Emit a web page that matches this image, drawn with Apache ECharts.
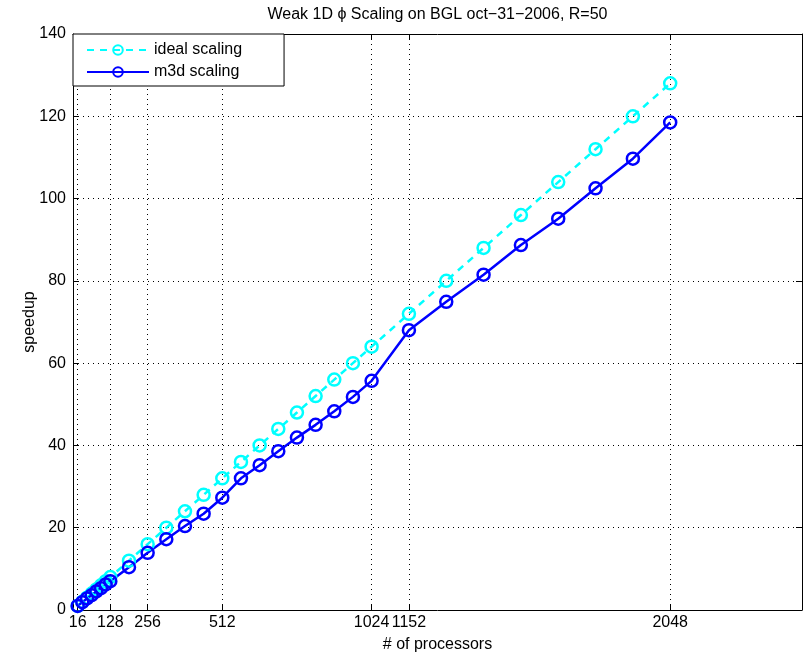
<!DOCTYPE html>
<html><head><meta charset="utf-8">
<script src="https://cdn.jsdelivr.net/npm/echarts@6/dist/echarts.min.js"></script>
<style>html,body{margin:0;padding:0;background:#fff}#c{width:803px;height:654px}</style>
</head><body><div id="c"></div>
<script>
// ---- data ----
const processors = [16,32,48,64,80,96,112,128,192,256,320,384,448,512,576,640,704,768,832,896,960,1024,1152,1280,1408,1536,1664,1792,1920,2048];
const idealSpeedup = [1,2,3,4,5,6,7,8,12,16,20,24,28,32,36,40,44,48,52,56,60,64,72,80,88,96,104,112,120,128];
const m3dSpeedup = [1.0,1.9,2.8,3.6,4.5,5.3,6.2,7.0,10.4,13.9,17.2,20.4,23.4,27.3,32.0,35.2,38.6,41.9,45.0,48.3,51.8,55.7,68.0,74.9,81.5,88.7,95.1,102.5,109.7,118.5];
const xTickValues = [16,128,256,512,1024,1152,2048];
const seriesNames = ['ideal scaling','m3d scaling'];
const titleText = 'Weak 1D \u03D5 Scaling on BGL oct\u221231\u22122006, R=50';
const xLabel = '# of processors';
const yLabel = 'speedup';

const FONT = '"Liberation Sans", Arial, Helvetica, sans-serif';
const FS = 16;
const pairs = (xs, ys) => xs.map((x, i) => [x, ys[i]]);
const chart = echarts.init(document.getElementById('c'), null, {renderer: 'canvas'});
const grid = {show: true, lineStyle: {color: '#000', width: 1, type: [1, 4]}};
const line = {show: true, onZero: false, lineStyle: {color: '#000', width: 1}};
const tickStyle = {color: '#000', width: 1};
const plain = v => String(v);

chart.setOption({
  animation: false,
  graphic: [{
    type: 'text', x: 437.5, y: 15,
    style: {text: titleText, align: 'center', verticalAlign: 'middle', font: FS + 'px ' + FONT, fill: '#000'}
  }],
  grid: {left: 73, top: 34, right: 1, bottom: 44, containLabel: false, outerBoundsMode: 'none'},
  legend: {
    orient: 'vertical', left: 73, top: 34,
    padding: [8, 42, 6, 13], itemGap: 6, itemWidth: 62, itemHeight: 12,
    borderColor: '#000', borderWidth: 1, borderRadius: 0, backgroundColor: '#fff',
    textStyle: {fontSize: FS, fontFamily: FONT, color: '#000'},
    data: seriesNames
  },
  xAxis: [{
    type: 'value', min: 0, max: 2500, position: 'bottom',
    axisLine: line,
    axisTick: {show: true, inside: true, length: 6, customValues: xTickValues, lineStyle: tickStyle},
    axisLabel: {customValues: xTickValues, formatter: plain, color: '#000', fontSize: FS, fontFamily: FONT, margin: 5},
    splitLine: grid,
    name: xLabel, nameLocation: 'middle', nameGap: 27, nameMoveOverlap: false,
    nameTextStyle: {color: '#000', fontSize: FS, fontFamily: FONT}
  }, {
    type: 'value', min: 0, max: 2500, position: 'top',
    axisLine: line,
    axisTick: {show: true, inside: true, length: 6, customValues: xTickValues, lineStyle: tickStyle},
    axisLabel: {show: false}, splitLine: {show: false}
  }],
  yAxis: [{
    type: 'value', min: 0, max: 140, interval: 20, position: 'left',
    axisLine: line,
    axisTick: {show: true, inside: true, length: 6, lineStyle: tickStyle},
    axisLabel: {formatter: plain, color: '#000', fontSize: FS, fontFamily: FONT, margin: 7},
    splitLine: grid,
    name: yLabel, nameLocation: 'middle', nameGap: 35, nameRotate: 90, nameMoveOverlap: false,
    nameTextStyle: {color: '#000', fontSize: FS, fontFamily: FONT}
  }, {
    type: 'value', min: 0, max: 140, interval: 20, position: 'right',
    axisLine: line,
    axisTick: {show: true, inside: true, length: 6, lineStyle: tickStyle},
    axisLabel: {show: false}, splitLine: {show: false}
  }],
  series: [{
    name: seriesNames[0], type: 'line', data: pairs(processors, idealSpeedup),
    symbol: 'circle', symbolSize: 12,
    itemStyle: {color: 'rgba(0,0,0,0)', borderColor: '#00FFFF', borderWidth: 2.5},
    lineStyle: {color: '#00FFFF', width: 2.5, type: [7, 6]},
    emphasis: {disabled: true}
  }, {
    name: seriesNames[1], type: 'line', data: pairs(processors, m3dSpeedup),
    symbol: 'circle', symbolSize: 12,
    itemStyle: {color: 'rgba(0,0,0,0)', borderColor: '#0000FF', borderWidth: 2.5},
    lineStyle: {color: '#0000FF', width: 2.5, type: 'solid'},
    emphasis: {disabled: true}
  }]
});
</script>
</body></html>
